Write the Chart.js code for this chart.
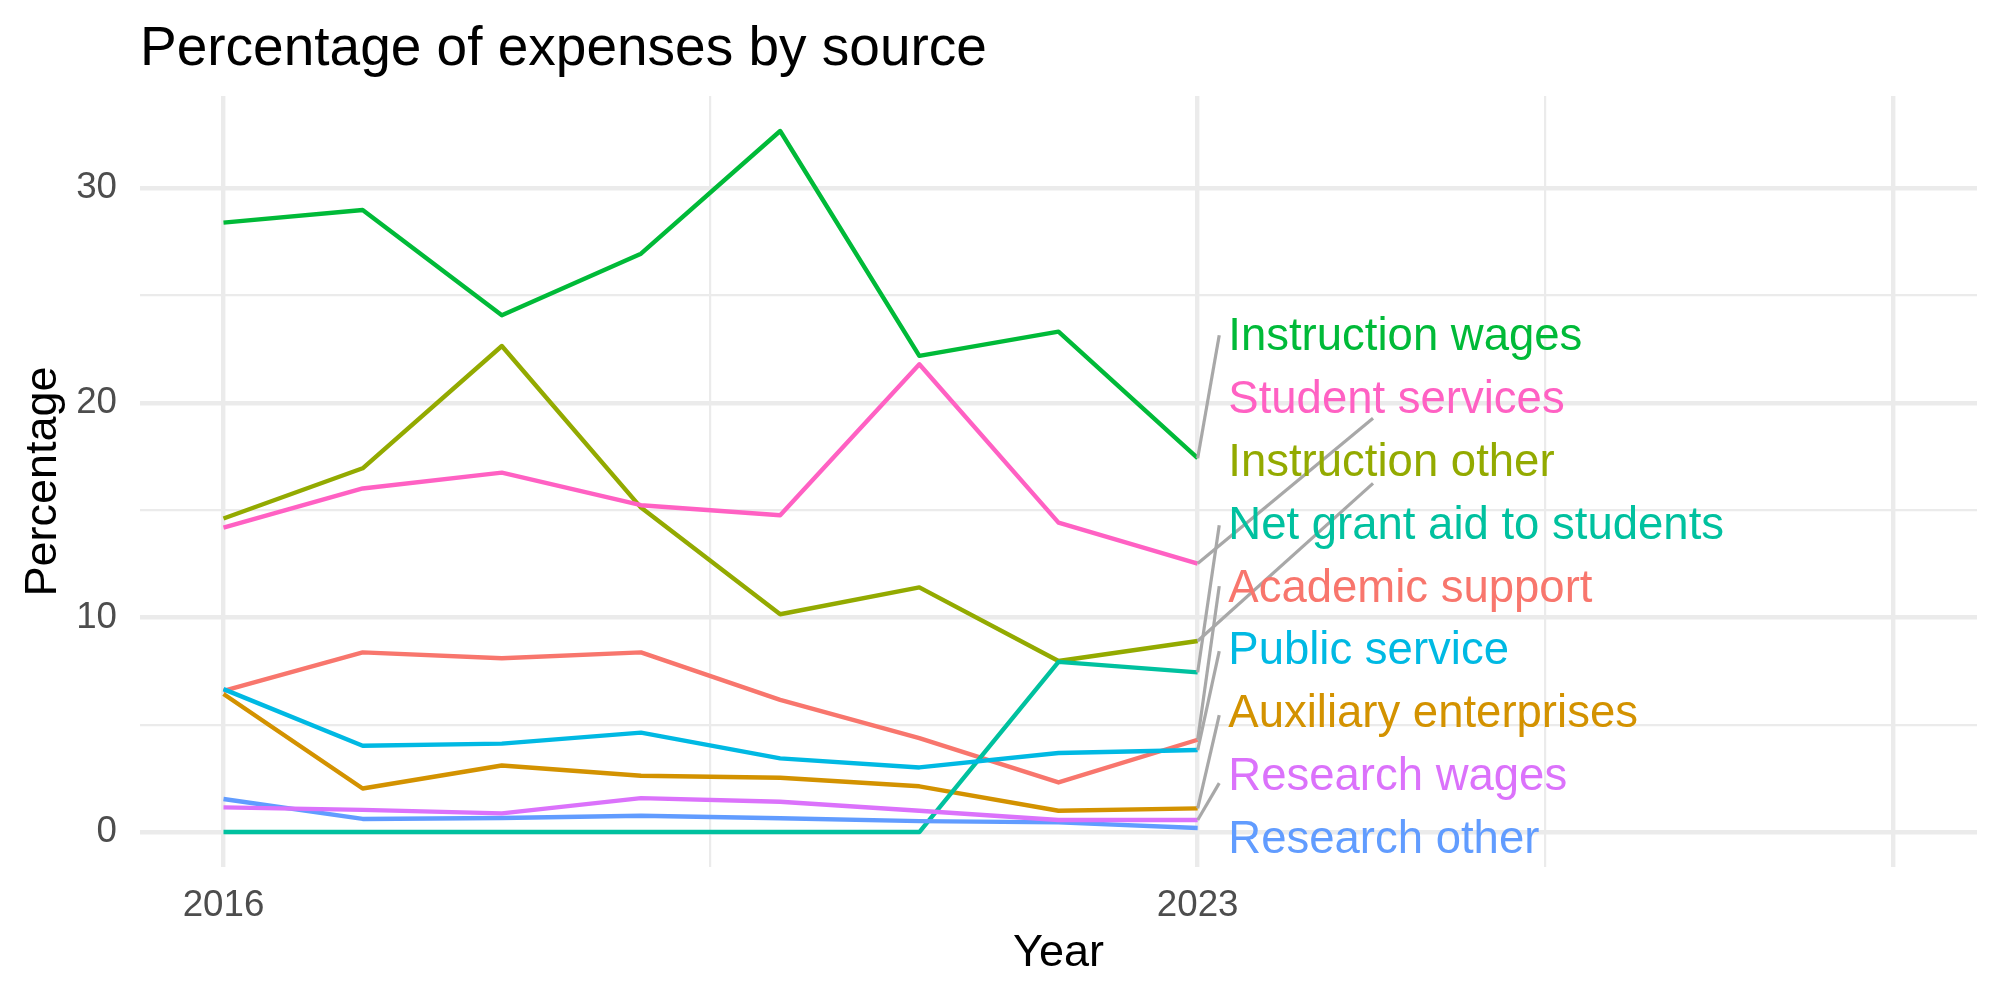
<!DOCTYPE html>
<html>
<head>
  <title>Percentage of expenses by source</title>
  <script src="https://cdn.jsdelivr.net/npm/chart.js"></script>
</head>
<body style="margin:0;background:#fff;">
  <canvas id="chart" width="2000" height="1000"></canvas>

  <script>
    // data
    const years = [2016, 2017, 2018, 2019, 2020, 2021, 2022, 2023];

    const sources = [
      "Academic support", "Auxiliary enterprises", "Instruction other",
      "Instruction wages", "Net grant aid to students", "Public service",
      "Research other", "Research wages", "Student services"
    ];

    const academicSupport      = [6.58, 8.37, 8.10, 8.37, 6.16, 4.38, 2.31, 4.30];
    const auxiliaryEnterprises = [6.43, 2.03, 3.10, 2.62, 2.53, 2.13, 0.99, 1.10];
    const instructionOther     = [14.61, 16.95, 22.65, 15.12, 10.15, 11.40, 7.97, 8.90];
    const instructionWages     = [28.40, 28.99, 24.08, 26.95, 32.67, 22.19, 23.32, 17.42];
    const netGrantAid          = [0, 0, 0, 0, 0, 0, 7.93, 7.44];
    const publicService        = [6.66, 4.02, 4.12, 4.63, 3.43, 3.01, 3.68, 3.82];
    const researchOther        = [1.54, 0.61, 0.65, 0.76, 0.64, 0.51, 0.45, 0.19];
    const researchWages        = [1.15, 1.03, 0.87, 1.58, 1.41, 0.99, 0.56, 0.56];
    const studentServices      = [14.19, 16.01, 16.75, 15.23, 14.76, 21.80, 14.42, 12.51];

    const seriesValues = [
      academicSupport, auxiliaryEnterprises, instructionOther, instructionWages,
      netGrantAid, publicService, researchOther, researchWages, studentServices
    ];

    const colors = ["#F8766D", "#D39200", "#93AA00", "#00BA38", "#00C19F",
                    "#00B9E3", "#619CFF", "#DB72FB", "#FF61C3"];

    // repelled label placement (data units), as in the picture
    const labelX = 2023.22;
    const labelY = [11.30, 5.48, 17.18, 23.04, 14.24, 8.40, -0.40, 2.53, 20.09];
    const leaderEndX = [2023.155, 2023.155, 2024.26, 2023.155, 2023.155, 2023.155, null, 2023.155, 2024.26];
    const leaderEndY = [11.46, 5.45, 16.25, 23.15, 14.30, 8.43, null, 2.28, 19.28];

    const xTicks = [2016, 2019.5, 2023, 2025.5, 2028];
    const xMajor = [2016, 2023, 2028];
    const xLabels = [2016, 2023];
    const yTicks = [0, 5, 10, 15, 20, 25, 30];
    const yMajor = [0, 10, 20, 30];

    Chart.defaults.font.family = '"Liberation Sans", Arial, sans-serif';

    const datasets = seriesValues.map((vals, i) => ({
      label: sources[i],
      data: vals.map((v, j) => ({ x: years[j], y: v })),
      borderColor: colors[i],
      borderWidth: 4.4,
      borderJoinStyle: "round",
      pointRadius: 0,
      tension: 0,
      order: sources.length - i
    }));

    sources.forEach((name, i) => {
      if (leaderEndX[i] === null) return;
      datasets.push({
        label: name + " leader",
        data: [{ x: 2023, y: seriesValues[i][7] }, { x: leaderEndX[i], y: leaderEndY[i] }],
        borderColor: "#A8A8A8",
        borderWidth: 3.2,
        pointRadius: 0,
        order: -1
      });
    });

    const endLabels = {
      id: "endLabels",
      afterDatasetsDraw(chart) {
        const { ctx, scales: { x, y } } = chart;
        ctx.save();
        ctx.font = '45.5px "Liberation Sans", Arial, sans-serif';
        ctx.textAlign = "left";
        ctx.textBaseline = "middle";
        sources.forEach((name, i) => {
          ctx.fillStyle = colors[i];
          ctx.fillText(name, x.getPixelForValue(labelX), y.getPixelForValue(labelY[i]));
        });
        ctx.restore();
      }
    };

    new Chart(document.getElementById("chart").getContext("2d"), {
      type: "line",
      data: { datasets },
      plugins: [endLabels],
      options: {
        responsive: false,
        devicePixelRatio: 1,
        animation: false,
        layout: { padding: { left: 0, right: 23, top: 0, bottom: 0 } },
        plugins: {
          legend: { display: false },
          tooltip: { enabled: false },
          title: {
            display: true,
            text: "Percentage of expenses by source",
            align: "start",
            fullSize: false,
            color: "#000",
            font: { size: 55, weight: "normal" },
            padding: { top: 17, bottom: 13 }
          }
        },
        scales: {
          x: {
            type: "linear",
            min: 2015.4,
            max: 2028.6,
            afterBuildTicks: s => { s.ticks = xTicks.map(v => ({ value: v })); },
            afterFit: s => { s.height = 133; },
            ticks: {
              autoSkip: false,
              maxRotation: 0,
              padding: 17,
              color: "#4D4D4D",
              font: { size: 36.7 },
              callback: v => xLabels.includes(v) ? String(v) : ""
            },
            grid: {
              color: "#EBEBEB",
              lineWidth: c => xMajor.includes(c.tick.value) ? 4.4 : 2.2,
              drawTicks: false
            },
            border: { display: false },
            title: {
              display: true,
              text: "Year",
              color: "#000",
              font: { size: 45 },
              padding: { top: 0, bottom: 19 }
            }
          },
          y: {
            type: "linear",
            min: -1.63,
            max: 34.3,
            afterBuildTicks: s => { s.ticks = yTicks.map(v => ({ value: v })); },
            afterFit: s => { s.width = 140; },
            ticks: {
              padding: 23,
              color: "#4D4D4D",
              font: { size: 36.7 },
              callback: v => yMajor.includes(v) ? String(v) : ""
            },
            grid: {
              color: "#EBEBEB",
              lineWidth: c => yMajor.includes(c.tick.value) ? 4.4 : 2.2,
              drawTicks: false
            },
            border: { display: false },
            title: {
              display: true,
              text: "Percentage",
              color: "#000",
              font: { size: 45 },
              padding: { top: 17, bottom: 0 }
            }
          }
        }
      }
    });
  </script>
</body>
</html>
